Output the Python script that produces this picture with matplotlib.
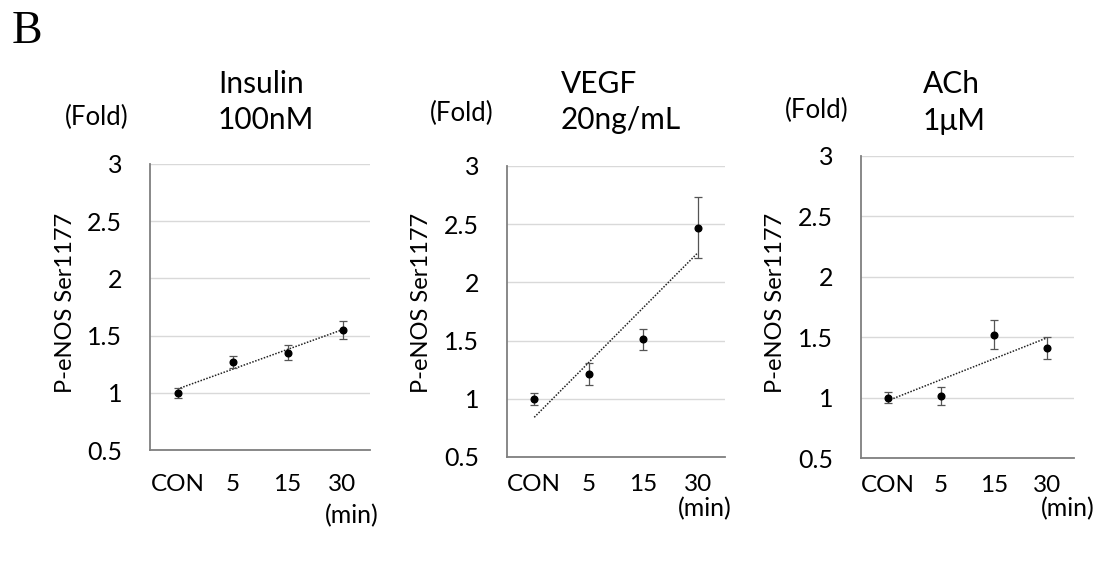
import numpy as np
import matplotlib
matplotlib.use("Agg")
import matplotlib.pyplot as plt

plt.rcParams['font.family'] = ['Lato', 'DejaVu Sans']

categories = ["CON", "5", "15", "30"]
titles = [("Insulin", "100nM"), ("VEGF", "20ng/mL"), ("ACh", "1\u03bcM")]
means = [
    [1.00, 1.27, 1.35, 1.55],
    [1.00, 1.21, 1.51, 2.47],
    [1.00, 1.01, 1.52, 1.41],
]
errors = [
    [0.045, 0.055, 0.065, 0.08],
    [0.05, 0.095, 0.09, 0.26],
    [0.045, 0.075, 0.12, 0.09],
]
yticks = [0.5, 1, 1.5, 2, 2.5, 3]
ytick_labels = ["0.5", "1", "1.5", "2", "2.5", "3"]

W, H = 1105, 567
fig = plt.figure(figsize=(W / 100, H / 100), dpi=100)

# axes boxes in pixels: left, right, top, bottom
boxes = [(150, 370, 164, 450), (507, 725, 166, 457), (861, 1074, 156, 458)]
fold_pos = [(97, 117), (462, 113), (817, 110)]
title_x = [218, 561, 923]
title_y = [(84, 120), (84, 120), (84, 121)]
ylabel_x = [65, 421, 776]
min_pos = [(352, 516), (705, 509), (1068, 509)]
xpad = [17, 12, 12]

for i in range(3):
    l, r, t, b = boxes[i]
    ax = fig.add_axes([l / W, 1 - b / H, (r - l) / W, (b - t) / H])
    x = np.arange(len(categories))
    ax.set_xlim(-0.5, len(categories) - 0.5)
    ax.set_ylim(0.5, 3)
    ax.set_yticks(yticks)
    ax.set_yticklabels(ytick_labels, fontsize=18)
    ax.set_xticks(x)
    ax.set_xticklabels(categories, fontsize=17.5)
    ax.tick_params(length=0, axis='y', pad=20)
    ax.tick_params(length=0, axis='x', pad=xpad[i])
    ax.grid(axis='y', color='#d9d9d9', linewidth=1.0)
    ax.set_axisbelow(True)
    for s in ['top', 'right']:
        ax.spines[s].set_visible(False)
    for s in ['left', 'bottom']:
        ax.spines[s].set_color('#7f7f7f')
        ax.spines[s].set_linewidth(1.3)
    ax.errorbar(x, means[i], yerr=errors[i], fmt='o', color='black',
                ecolor='#555555', elinewidth=0.9, capsize=2.8, capthick=0.9,
                markersize=4.8, zorder=3)
    coef = np.polyfit(x, means[i], 1)
    ax.plot(x, np.polyval(coef, x), linestyle=(0, (1, 1)), color='#222222',
            linewidth=1.1, zorder=2)
    fig.text(ylabel_x[i] / W, 1 - 303 / H, "P-eNOS Ser1177", fontsize=17,
             rotation=90, ha='center', va='center')
    fig.text(fold_pos[i][0] / W, 1 - fold_pos[i][1] / H, "(Fold)", fontsize=18.5,
             ha='center', va='center')
    fig.text(title_x[i] / W, 1 - title_y[i][0] / H, titles[i][0], fontsize=21.5,
             ha='left', va='center')
    fig.text(title_x[i] / W, 1 - title_y[i][1] / H, titles[i][1], fontsize=21.5,
             ha='left', va='center')
    fig.text(min_pos[i][0] / W, 1 - min_pos[i][1] / H, "(min)", fontsize=18,
             ha='center', va='center')

fig.text(12 / W, 1 - 32 / H, "B", fontsize=33, family='Liberation Serif',
         ha='left', va='center')

fig.savefig("out.png", dpi=100, facecolor='white')
